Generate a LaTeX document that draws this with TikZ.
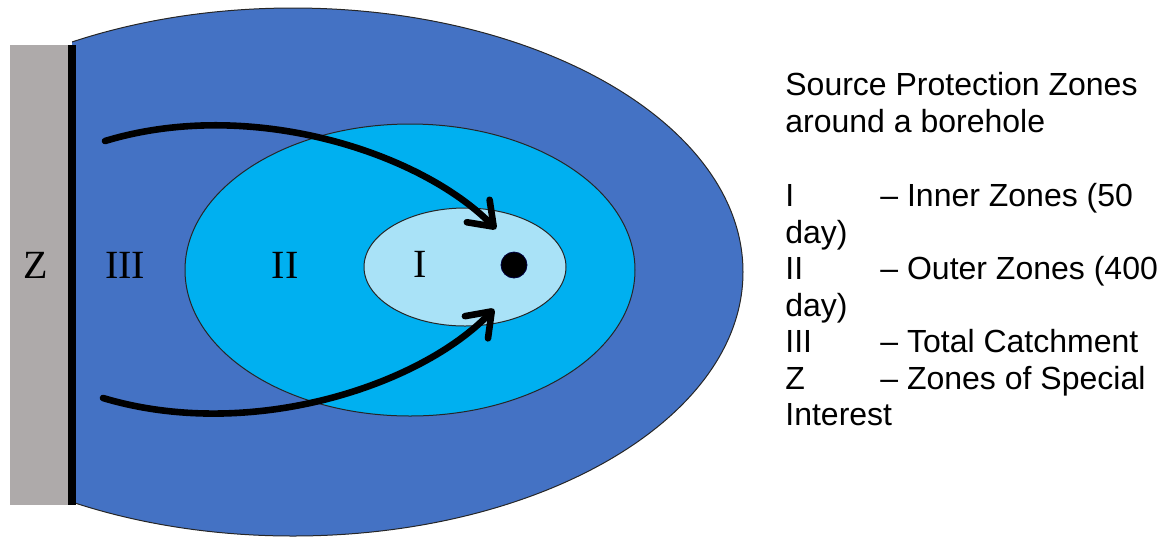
\documentclass[tikz,border=0pt]{standalone}
\usepackage{fontspec}
\setmainfont{Liberation Sans}
\newfontfamily\zoneserif{Liberation Serif}
\usetikzlibrary{arrows.meta,positioning}

\definecolor{catchblue}{HTML}{4472C4}
\definecolor{outerblue}{HTML}{00B0F0}
\definecolor{innerblue}{HTML}{A9E2F7}
\definecolor{specialgray}{HTML}{AEAAAA}

\tikzset{
  zone/.style={draw=black!85, line width=0.5pt},
  zonelabel/.style={font=\zoneserif\fontsize{20}{22}\selectfont, inner sep=0pt},
  flow/.style={line width=3.3pt, line cap=round,
    -{Straight Barb[length=11pt,width=16pt,round]}},
}

\begin{document}
\begin{tikzpicture}[x=0.5pt, y=-0.5pt]
    \useasboundingbox (0,0) rectangle (1164,538);

    % zone of special interest
    \fill[specialgray] (10,45) rectangle (72,505);

    % total catchment, cut off at the boundary
    \begin{scope}
        \clip (72,0) rectangle (800,538);
        \draw[zone, fill=catchblue] (293,272) ellipse [x radius=450, y radius=264];
    \end{scope}

    % outer and inner zones
    \draw[zone, fill=outerblue] (410,270) ellipse [x radius=225, y radius=146];
    \draw[zone, fill=innerblue] (465,267) ellipse [x radius=101, y radius=59];

    % boundary line
    \draw[line width=4pt] (72,45) -- (72,505);

    % borehole
    \node[circle, fill=black, draw=blue!25!black, line width=0.4pt,
          minimum size=13pt, inner sep=0pt] (bore) at (514,265) {};

    % zone labels
    \node[zonelabel] (labZ) at (36,265) {Z};
    \node[zonelabel] (labIII) at (125,265) {III};
    \node[zonelabel] (labII) at (285,265) {II};
    \node[zonelabel] (labI) at (420,264) {I};

    % flow towards the borehole
    \coordinate (topstart) at (105,141);
    \coordinate (topend) at (496,229);
    \coordinate (botstart) at (103,398);
    \coordinate (botend) at (494,309);
    \draw[flow] (topstart) .. controls (250,97) and (420,152) .. (topend);
    \draw[flow] (botstart) .. controls (250,442) and (420,386) .. (botend);

    % legend
    \node[anchor=north west, inner sep=0pt, align=left,
          font=\fontsize{16}{18.25}\selectfont] (legend) at (785,72)
        {Source Protection Zones\\
         around a borehole\\[19pt]
         \makebox[47.5pt][l]{I}– Inner Zones (50\\
         day)\\
         \makebox[47.5pt][l]{II}– Outer Zones (400\\
         day)\\
         \makebox[47.5pt][l]{III}– Total Catchment\\
         \makebox[47.5pt][l]{Z}– Zones of Special\\
         Interest};
\end{tikzpicture}
\end{document}
